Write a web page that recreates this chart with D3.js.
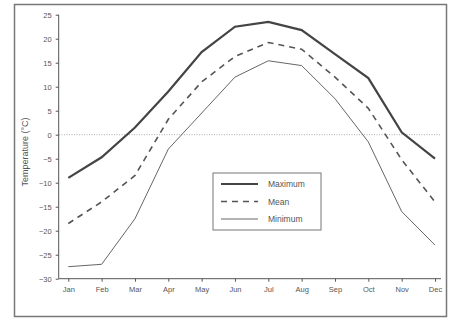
<!DOCTYPE html>
<html>
<head>
<meta charset="utf-8">
<script src="https://cdn.jsdelivr.net/npm/d3@7"></script>
<style>
  body { margin: 0; background: #fff; }
  text { font-family: "Liberation Sans", Arial, sans-serif; fill: #555; }
</style>
</head>
<body>
<svg id="chart" width="454" height="320"></svg>
<script>
  // monthly temperature data (deg C)
  var months = ['Jan','Feb','Mar','Apr','May','Jun','Jul','Aug','Sep','Oct','Nov','Dec']
  var maximum = [-9, -4.7, 1.5, 9, 17.2, 22.5, 23.5, 21.8, 16.8, 11.8, 0.5, -5]
  var mean = [-18.5, -14, -8.5, 3.2, 11, 16.3, 19.2, 17.8, 12, 5.5, -5.2, -14]
  var minimum = [-27.5, -27, -17.5, -3, 4.5, 12, 15.4, 14.4, 7.5, -1.5, -16, -23]
  var yTicks = [25, 20, 15, 10, 5, 0, -5, -10, -15, -20, -25, -30]
  var legendItems = ['Maximum', 'Mean', 'Minimum']

  var svg = d3.select('#chart')

  // outer frame
  svg.append('rect')
    .attr('x', 14.5).attr('y', 4.5)
    .attr('width', 432).attr('height', 312)
    .style('fill', 'none')
    .style('stroke', '#777')
    .style('stroke-width', 1.5)

  var x = d3.scalePoint()
    .domain(months)
    .range([68.3, 435])

  var y = d3.scaleLinear()
    .domain([-30, 25])
    .range([278.7, 14.7])

  var yAxis = svg.append('g')
    .attr('transform', 'translate(58.7,0)')
    .call(d3.axisLeft(y).tickValues(yTicks).tickSize(3).tickPadding(4))
  yAxis.select('.domain').attr('d', 'M0,' + y(25) + 'V' + y(-30))

  var xAxis = svg.append('g')
    .attr('transform', 'translate(0,' + y(-30) + ')')
    .call(d3.axisBottom(x).tickSize(3).tickPadding(5))
  xAxis.select('.domain').attr('d', 'M58.7,0H441')

  svg.selectAll('.domain, .tick line').style('stroke', '#555')
  svg.selectAll('.tick text').style('font-size', '7.5px').style('fill', '#555')
    .style('font-family', '"Liberation Sans", Arial, sans-serif')

  svg.append('text')
    .attr('transform', 'translate(28,152) rotate(-90)')
    .attr('text-anchor', 'middle')
    .style('font-size', '9px')
    .text('Temperature (°C)')

  // zero reference line
  svg.append('line')
    .attr('x1', 59).attr('x2', 441)
    .attr('y1', y(0)).attr('y2', y(0))
    .style('stroke', '#999')
    .style('stroke-width', 0.8)
    .style('stroke-dasharray', '1,1.5')

  var line = d3.line()
    .x(function(d, i){ return x(months[i]) })
    .y(function(d){ return y(d) })

  var styles = [
    {w: 2.2, dash: null, c: '#444'},
    {w: 1.6, dash: '6,5', c: '#555'},
    {w: 1, dash: null, c: '#666'}
  ]

  ;[maximum, mean, minimum].forEach(function(series, i){
    svg.append('path')
      .datum(series)
      .attr('d', line)
      .style('fill', 'none')
      .style('stroke', styles[i].c)
      .style('stroke-width', styles[i].w)
      .style('stroke-dasharray', styles[i].dash)
  })

  // legend
  var legend = svg.append('g').attr('transform', 'translate(213,173)')
  legend.append('rect')
    .attr('width', 108).attr('height', 57)
    .style('fill', '#fff')
    .style('stroke', '#777')
    .style('stroke-width', 1)

  legendItems.forEach(function(name, i){
    var ly = 11 + i * 17.5
    legend.append('line')
      .attr('x1', 8).attr('x2', 45)
      .attr('y1', ly).attr('y2', ly)
      .style('stroke', styles[i].c)
      .style('stroke-width', styles[i].w)
      .style('stroke-dasharray', styles[i].dash)
    legend.append('text')
      .attr('x', 55).attr('y', ly + 3)
      .style('font-size', '8.5px')
      .text(name)
  })
</script>
</body>
</html>
